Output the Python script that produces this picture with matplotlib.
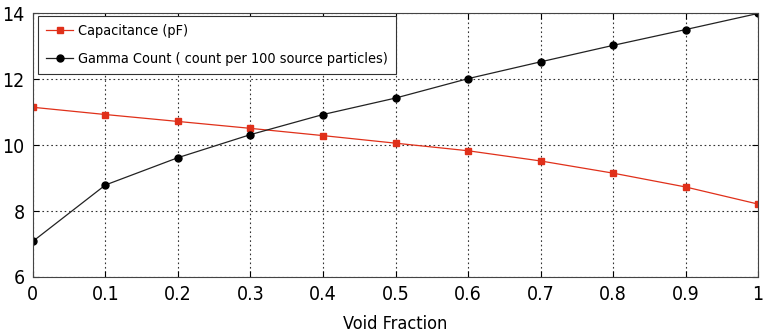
import numpy as np
import matplotlib
matplotlib.use("Agg")
import matplotlib.pyplot as plt
from matplotlib import font_manager

void_fraction = [0, 0.1, 0.2, 0.3, 0.4, 0.5, 0.6, 0.7, 0.8, 0.9, 1.0]
capacitance = [11.15, 10.93, 10.72, 10.51, 10.29, 10.06, 9.83, 9.52, 9.15, 8.73, 8.21]
gamma_count = [7.08, 8.79, 9.62, 10.32, 10.93, 11.43, 12.02, 12.53, 13.03, 13.51, 14.0]

x_ticks = [0, 0.1, 0.2, 0.3, 0.4, 0.5, 0.6, 0.7, 0.8, 0.9, 1]
x_tick_labels = ["0", "0.1", "0.2", "0.3", "0.4", "0.5", "0.6", "0.7", "0.8", "0.9", "1"]
y_ticks = [6, 8, 10, 12, 14]

# condensed DejaVu if it is there, plain otherwise
has_cond = any('Condensed' in f.fname for f in font_manager.fontManager.ttflist
               if f.name == 'DejaVu Sans')

plt.rcParams['font.family'] = ['DejaVu Sans']
if has_cond:
    plt.rcParams['font.stretch'] = 'condensed'

fig = plt.figure(figsize=(7.65, 3.36), dpi=100)
ax = fig.add_axes([0.043, 0.176, 0.948, 0.784])

ax.plot(void_fraction, capacitance, color='#e0301a', linewidth=0.9, marker='s',
        markersize=5, label='Capacitance (pF)')
ax.plot(void_fraction, gamma_count, color='#222222', linewidth=0.9, marker='o',
        markersize=5, markerfacecolor='black', markeredgecolor='black',
        label='Gamma Count ( count per 100 source particles)')

ax.set_xlim(0, 1)
ax.set_ylim(6, 14)
ax.set_xticks(x_ticks)
ax.set_xticklabels(x_tick_labels)
ax.set_yticks(y_ticks)
ax.tick_params(direction='in', top=True, right=True, labelsize=14, length=4, pad=6)
ax.grid(True, linestyle=(0, (1.5, 2.5)), color='#333333', linewidth=0.8)
for s in ax.spines.values():
    s.set_color('#444444')
ax.set_xlabel('Void Fraction', fontsize=13, labelpad=8)

leg = ax.legend(loc='upper left', fontsize=10.4 if has_cond else 9.6,
                fancybox=False, framealpha=1,
                edgecolor='#333333', handlelength=1.9, borderpad=0.55,
                labelspacing=0.95, handletextpad=0.35, borderaxespad=0,
                bbox_to_anchor=(0.007, 0.99))
leg.get_frame().set_linewidth(0.8)

fig.savefig('out.png', dpi=100)
